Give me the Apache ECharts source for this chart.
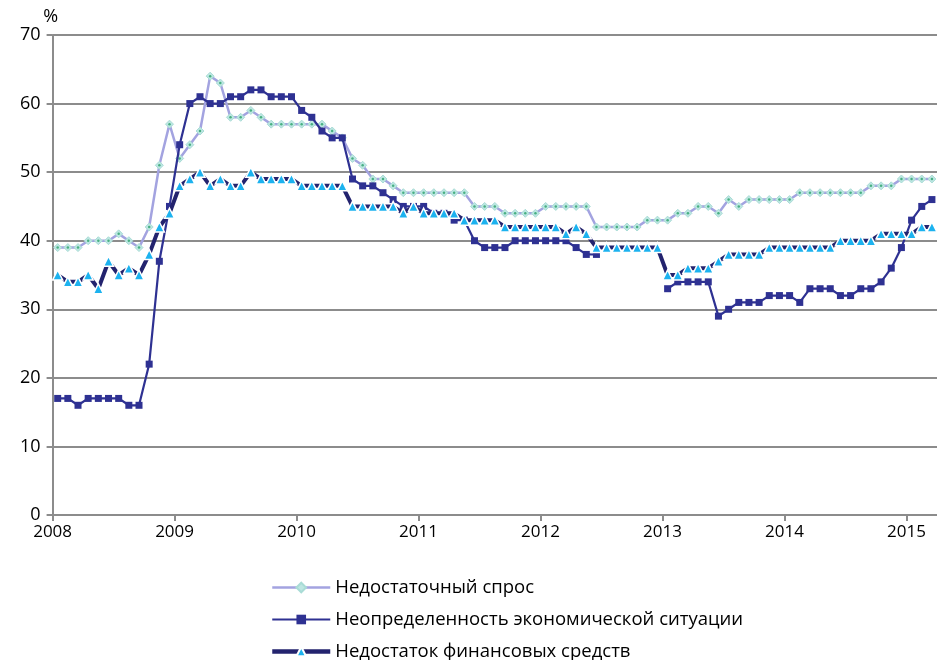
<!DOCTYPE html>
<html>
<head>
<meta charset="utf-8">
<script src="https://cdn.jsdelivr.net/npm/echarts@6/dist/echarts.min.js"></script>
<style>
html,body{margin:0;padding:0;background:#fff;}
#chart{width:937px;height:660px;}
</style>
</head>
<body>
<div id="chart"></div>
<script>
// Monthly data, Jan 2008 .. Mar 2015
const startYear = 2008;
const yearLabels = ['2008','2009','2010','2011','2012','2013','2014','2015'];
const yTicks = [0,10,20,30,40,50,60,70];

const seriesNames = [
  'Недостаточный спрос',
  'Неопределенность экономической ситуации',
  'Недостаток финансовых средств'
];

const demand = [
  39,39,39,40,40,40,41,40,39,42,51,57,
  52,54,56,64,63,58,58,59,58,57,57,57,
  57,57,57,56,55,52,51,49,49,48,47,47,
  47,47,47,47,47,45,45,45,44,44,44,44,
  45,45,45,45,45,42,42,42,42,42,43,43,
  43,44,44,45,45,44,46,45,46,46,46,46,
  46,47,47,47,47,47,47,47,48,48,48,49,
  49,49,49
];

const uncertainty = [
  17,17,16,17,17,17,17,16,16,22,37,45,
  54,60,61,60,60,61,61,62,62,61,61,61,
  59,58,56,55,55,49,48,48,47,46,45,45,
  45,44,44,43,43,40,39,39,39,40,40,40,
  40,40,40,39,38,38,null,null,null,null,null,null,
  33,34,34,34,34,29,30,31,31,31,32,32,
  32,31,33,33,33,32,32,33,33,34,36,39,
  43,45,46
];

const finance = [
  35,34,34,35,33,37,35,36,35,38,42,44,
  48,49,50,48,49,48,48,50,49,49,49,49,
  48,48,48,48,48,45,45,45,45,45,44,45,
  44,44,44,44,43,43,43,43,42,42,42,42,
  42,42,41,42,41,39,39,39,39,39,39,39,
  35,35,36,36,36,37,38,38,38,38,39,39,
  39,39,39,39,39,40,40,40,40,41,41,41,
  41,42,42
];

// x = month index + 0.5 (points sit in the middle of each month)
const toXY = arr => arr.map((v, i) => [i + 0.5, v]);
const nMonths = demand.length;

const FONT = '"Open Sans", "DejaVu Sans", sans-serif';

const chart = echarts.init(document.getElementById('chart'), null, {renderer: 'canvas'});
chart.setOption({
  animation: false,
  backgroundColor: '#ffffff',
  grid: {left: 52.6, top: 35, width: 886.5, height: 480, containLabel: false},
  xAxis: {
    type: 'value',
    min: 0,
    max: nMonths,
    interval: 12,
    axisLine: {show: true, lineStyle: {color: '#8c8c8c', width: 2}},
    axisTick: {show: true, length: 6, lineStyle: {color: '#8c8c8c', width: 2}},
    splitLine: {show: false},
    axisLabel: {
      color: '#000',
      fontFamily: FONT,
      fontSize: 17,
      margin: 9,
      showMaxLabel: false,
      formatter: v => (v % 12 === 0 && yearLabels[v / 12]) ? yearLabels[v / 12] : ''
    }
  },
  yAxis: {
    type: 'value',
    min: yTicks[0],
    max: yTicks[yTicks.length - 1],
    interval: 10,
    name: '%',
    nameLocation: 'end',
    nameGap: 5,
    nameTextStyle: {color: '#000', fontFamily: FONT, fontSize: 18, align: 'center', padding: [0, 4, 0, 0]},
    axisLine: {show: true, lineStyle: {color: '#8c8c8c', width: 2}},
    axisTick: {show: true, length: 6, lineStyle: {color: '#8c8c8c', width: 2}},
    splitLine: {show: true, lineStyle: {color: '#8c8c8c', width: 2}},
    axisLabel: {color: '#000', fontFamily: FONT, fontSize: 18, margin: 12}
  },
  legend: {
    orient: 'vertical',
    left: 270,
    top: 578,
    height: 120,
    padding: 0,
    itemWidth: 58,
    itemHeight: 12,
    itemGap: 13,
    data: [
      {name: seriesNames[0], lineStyle: {width: 2.5}},
      {name: seriesNames[1], lineStyle: {width: 2.2}},
      {name: seriesNames[2], lineStyle: {width: 4.5}}
    ],
    textStyle: {color: '#000', fontFamily: FONT, fontSize: 18.5}
  },
  series: [
    {
      name: seriesNames[0],
      type: 'line',
      data: toXY(demand),
      symbol: 'diamond',
      symbolSize: 8,
      lineStyle: {color: '#a3a3e0', width: 2.5},
      itemStyle: {color: '#bde6e2', borderColor: '#a9dcd6', borderWidth: 1},
      z: 2
    },
    {
      name: seriesNames[0] + ' ',
      type: 'scatter',
      data: toXY(demand),
      symbol: 'circle',
      symbolSize: 2.5,
      itemStyle: {color: '#2aa36a'},
      silent: true,
      z: 3
    },
    {
      name: seriesNames[1],
      type: 'line',
      data: toXY(uncertainty),
      symbol: 'rect',
      symbolSize: 7,
      connectNulls: false,
      lineStyle: {color: '#2e3192', width: 2.2},
      itemStyle: {color: '#2e3192'},
      z: 4
    },
    {
      name: seriesNames[2],
      type: 'line',
      data: toXY(finance),
      symbol: 'triangle',
      symbolSize: 10,
      lineStyle: {color: '#23236e', width: 4},
      itemStyle: {color: '#1cb2ef', borderColor: '#ffffff', borderWidth: 1.5},
      z: 5
    }
  ]
});
</script>
</body>
</html>
